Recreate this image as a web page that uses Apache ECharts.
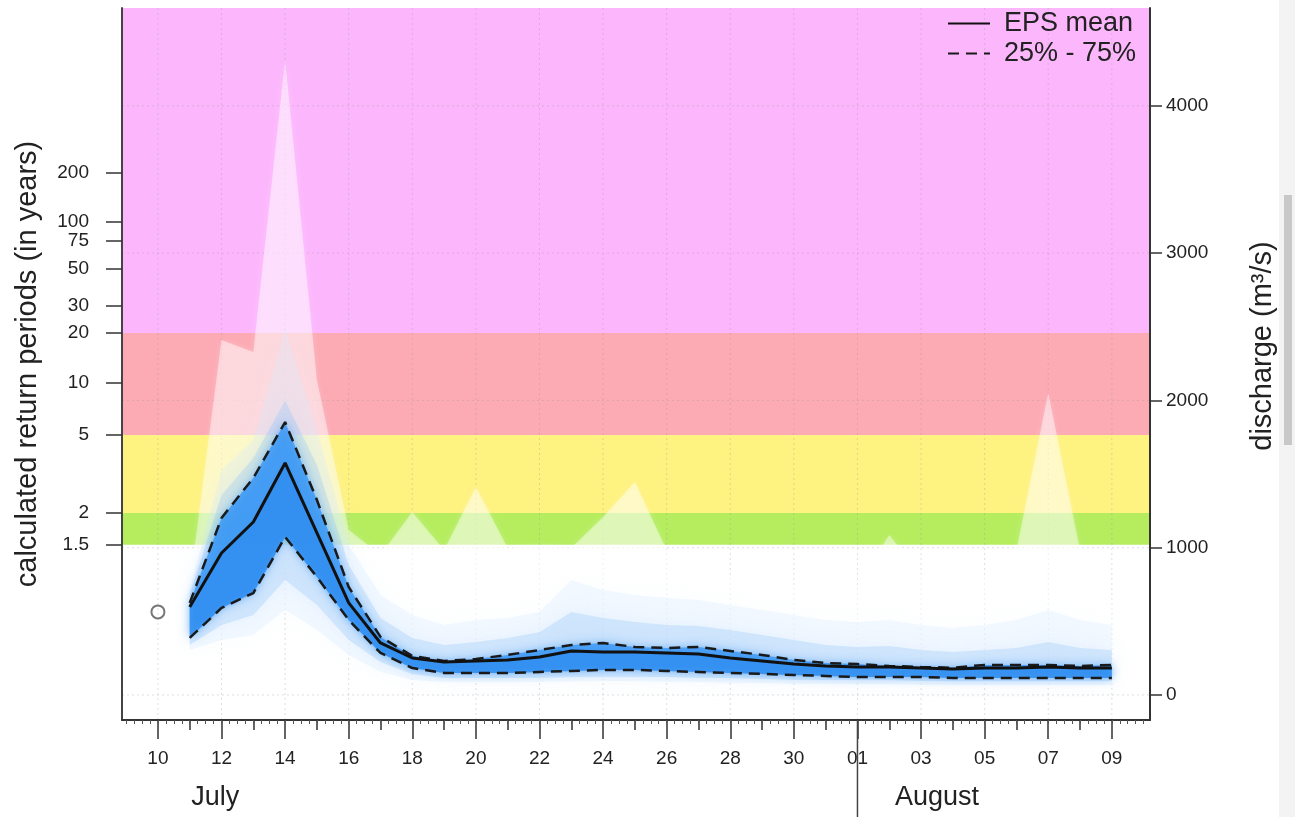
<!DOCTYPE html>
<html>
<head>
<meta charset="utf-8">
<script src="https://cdn.jsdelivr.net/npm/echarts@6/dist/echarts.min.js"></script>
<style>
html,body{margin:0;padding:0;background:#ffffff;}
#chart{width:1295px;height:817px;}
</style>
</head>
<body>
<div id="chart"></div>
<script>
// ---------- DATA ----------
// day index 0 = 10 July ... 30 = 9 August
const dayLabels = ['10','11','12','13','14','15','16','17','18','19','20','21','22','23','24','25','26','27','28','29','30','31','01','02','03','04','05','06','07','08','09'];
const labelDays = [0,2,4,6,8,10,12,14,16,18,20,22,24,26,28,30];
const allDays = [0,1,2,3,4,5,6,7,8,9,10,11,12,13,14,15,16,17,18,19,20,21,22,23,24,25,26,27,28,29,30];
const monthNames = ['July','August'];
const monthLabelPos = [1.8, 24.5];
const monthStartDay = 22; // 01 August

// forecast days (11 July .. 9 August)
const fcDays = [1,2,3,4,5,6,7,8,9,10,11,12,13,14,15,16,17,18,19,20,21,22,23,24,25,26,27,28,29,30];
// discharge, m3/s
const epsMean = [597,964,1174,1575,1100,625,353,251,224,231,238,258,299,292,292,285,278,251,231,210,197,190,190,183,177,183,183,190,183,183];
const q75 = [625,1202,1473,1853,1324,733,394,265,231,244,272,305,339,353,326,319,326,299,272,238,217,210,197,190,185,204,204,204,197,204];
const q25 = [387,591,692,1073,801,509,285,183,149,149,149,156,163,170,170,163,156,149,143,136,129,122,122,122,115,115,115,115,115,115];
const q90 = [679,1358,1609,2000,1561,883,523,387,339,360,387,428,563,523,496,475,468,441,407,373,339,326,333,305,292,305,319,360,319,305];
const q10 = [339,475,543,781,611,373,224,143,115,115,115,115,122,122,122,122,115,115,108,102,102,102,102,95,95,95,95,95,95,95];
const q95 = [713,1528,1731,2480,1799,1018,679,543,475,509,523,563,781,713,679,659,645,611,577,543,509,496,509,475,455,475,509,577,509,475];
const qMax = [747,2410,2329,4311,2139,1120,950,1242,984,1412,998,1018,998,1208,1446,984,849,815,781,747,713,747,1086,815,747,815,984,2050,984,645];
const qMin = [305,373,407,577,441,272,156,102,88,88,88,88,95,95,95,88,88,81,81,75,75,75,75,68,68,68,68,68,68,68];

const obsDays = [0];
const obsValues = [564];

// return-period thresholds (discharge) and colours
const thresholdLow  = [1020, 1236, 1765, 2458];
const thresholdHigh = [1236, 1765, 2458, 4664];
const thresholdColors = ['#B5ED5F', '#FEF280', '#FCAAB4', '#FCB7FC'];

// left axis: return periods (labels) at discharge positions
const rpLabels    = ['1.5','2','5','10','20','30','50','75','100','200'];
const rpDischarge = [1020, 1236, 1765, 2118, 2458, 2641, 2892, 3082, 3211, 3544];
// right axis ticks
const dischargeTicks = [0, 1000, 2000, 3000, 4000];

// ---------- CHART ----------
const FONT = "'Liberation Sans', Arial, sans-serif";
const X_MIN = -1.13, X_MAX = 31.2;
const Y_MIN = -170, Y_MAX = 4664;

const hatchTicks = [];
for (let t = -1; t <= 31.01; t += 0.25) hatchTicks.push(+t.toFixed(2));

const chart = echarts.init(document.getElementById('chart'), null, {renderer: 'canvas'});

function bandSeries(lo, hi, color, blur) {
  return {
    type: 'custom', xAxisIndex: 0, yAxisIndex: 1, z: 3, silent: true,
    data: fcDays.map((d, i) => [d, lo[i], hi[i]]),
    encode: {x: 0, y: [1, 2]},
    renderItem: function (params, api) {
      if (params.dataIndex !== 0) return null;
      const top = [], bot = [];
      for (let i = 0; i < fcDays.length; i++) {
        top.push(api.coord([fcDays[i], hi[i]]));
        bot.push(api.coord([fcDays[i], lo[i]]));
      }
      return {
        type: 'polygon',
        shape: {points: top.concat(bot.reverse())},
        style: {fill: color, shadowBlur: blur, shadowColor: color}
      };
    }
  };
}

const option = {
  animation: false,
  backgroundColor: '#ffffff',
  textStyle: {fontFamily: FONT},
  grid: {left: 122, right: 145, top: 8, bottom: 97, outerBoundsMode: 'none', containLabel: false},
  legend: {
    data: ['EPS mean', '25% - 75%'],
    orient: 'vertical', left: 942, top: 5, align: 'left',
    itemWidth: 42, itemHeight: 14, itemGap: 3,
    itemStyle: {color: 'rgba(0,0,0,0)', borderWidth: 0, opacity: 0},
    textStyle: {fontSize: 27, color: '#222', fontFamily: FONT, padding: [0, 0, 0, 9]},
    selectedMode: false
  },
  xAxis: [
    {
      type: 'value', position: 'bottom', min: X_MIN, max: X_MAX, z: 10,
      axisLine: {show: true, onZero: false, lineStyle: {color: '#333', width: 2}},
      axisTick: {show: true, customValues: labelDays, length: 19, lineStyle: {color: '#333', width: 1.5}},
      axisLabel: {customValues: labelDays, formatter: v => dayLabels[Math.round(v)], fontSize: 19, margin: 29, color: '#222', fontFamily: FONT},
      splitLine: {show: false}
    },
    {
      type: 'value', position: 'bottom', min: X_MIN, max: X_MAX, z: 10,
      axisLine: {show: false, onZero: false},
      axisTick: {show: true, customValues: allDays, length: 10, lineStyle: {color: '#333', width: 1.5}},
      axisLabel: {show: false}, splitLine: {show: false}
    },
    {
      type: 'value', position: 'bottom', min: X_MIN, max: X_MAX, z: 10,
      axisLine: {show: false, onZero: false},
      axisTick: {show: true, customValues: hatchTicks, length: 4, lineStyle: {color: '#555', width: 1}},
      axisLabel: {show: false}, splitLine: {show: false}
    },
    {
      type: 'value', position: 'bottom', min: X_MIN, max: X_MAX, z: 10,
      axisLine: {show: false, onZero: false}, axisTick: {show: false},
      axisLabel: {customValues: monthLabelPos, formatter: v => monthNames[monthLabelPos.indexOf(v)], fontSize: 27, margin: 64, color: '#222', fontFamily: FONT},
      splitLine: {show: false}
    }
  ],
  yAxis: [
    {
      type: 'value', position: 'left', min: Y_MIN, max: Y_MAX, z: 10,
      name: 'calculated return periods (in years)', nameLocation: 'middle', nameGap: 80, nameRotate: 90,
      nameTextStyle: {fontSize: 29, color: '#222', fontFamily: FONT},
      axisLine: {show: true, onZero: false, lineStyle: {color: '#444', width: 2}},
      axisTick: {show: true, customValues: rpDischarge, length: 16, lineStyle: {color: '#333', width: 1.5}},
      axisLabel: {customValues: rpDischarge, formatter: v => {
        const i = rpDischarge.findIndex(d => Math.abs(d - v) < 0.5); return i >= 0 ? rpLabels[i] : '';
      }, fontSize: 19, margin: 33, color: '#222', fontFamily: FONT},
      splitLine: {show: false}
    },
    {
      type: 'value', position: 'right', min: Y_MIN, max: Y_MAX, z: 10,
      name: 'discharge (m³/s)', nameLocation: 'middle', nameGap: 98, nameRotate: 90,
      nameTextStyle: {fontSize: 29, color: '#222', fontFamily: FONT, padding: [0, 0, 0, 36]},
      axisLine: {show: true, onZero: false, lineStyle: {color: '#333', width: 2}},
      axisTick: {show: true, customValues: dischargeTicks, length: 12, lineStyle: {color: '#333', width: 1.5}},
      axisLabel: {customValues: dischargeTicks, formatter: v => String(Math.round(v)), fontSize: 19, margin: 16, color: '#222', fontFamily: FONT},
      splitLine: {show: false}
    }
  ],
  series: [
    // background return-period bands
    {
      type: 'custom', xAxisIndex: 0, yAxisIndex: 1, z: 0, silent: true,
      data: thresholdLow.map((lo, i) => [0, lo, thresholdHigh[i]]),
      encode: {x: 0, y: [1, 2]},
      renderItem: function (params, api) {
        const cs = params.coordSys;
        const yTop = api.coord([0, api.value(2)])[1];
        const yBot = api.coord([0, api.value(1)])[1];
        return {type: 'rect', shape: {x: cs.x, y: yTop, width: cs.width, height: yBot - yTop},
                style: {fill: thresholdColors[params.dataIndex]}};
      }
    },
    // dotted grid lines
    {
      type: 'custom', xAxisIndex: 0, yAxisIndex: 1, z: 1, silent: true,
      data: [[0, 0]], encode: {x: 0, y: 1},
      renderItem: function (params, api) {
        const cs = params.coordSys;
        const children = [];
        labelDays.forEach(d => {
          const x = api.coord([d, 0])[0];
          children.push({type: 'line', shape: {x1: x, y1: cs.y, x2: x, y2: cs.y + cs.height},
            style: {stroke: 'rgba(150,150,150,0.3)', lineWidth: 1, lineDash: [2, 3]}});
        });
        dischargeTicks.forEach(v => {
          const y = api.coord([0, v])[1];
          children.push({type: 'line', shape: {x1: cs.x, y1: y, x2: cs.x + cs.width, y2: y},
            style: {stroke: 'rgba(150,150,150,0.3)', lineWidth: 1, lineDash: [2, 3]}});
        });
        return {type: 'group', children: children};
      }
    },
    // ensemble fan
    bandSeries(qMin, qMax, 'rgba(255,255,255,0.45)', 6),
    bandSeries(qMin, q95, 'rgba(215,235,255,0.3)', 26),
    bandSeries(q10, q90, 'rgba(150,200,250,0.32)', 18),
    bandSeries(q25, q75, 'rgba(55,150,245,0.78)', 10),
    bandSeries(q25, epsMean, 'rgba(25,125,235,0.3)', 4),
    // lines
    {
      name: '25% - 75%', type: 'line', xAxisIndex: 0, yAxisIndex: 1, z: 6, silent: true,
      data: fcDays.map((d, i) => [d, q75[i]]), symbol: 'none', showSymbol: false,
      lineStyle: {color: '#1a1a1a', width: 2.5, type: [11, 7]}, itemStyle: {color: '#1a1a1a'}
    },
    {
      name: '25% - 75%', type: 'line', xAxisIndex: 0, yAxisIndex: 1, z: 6, silent: true,
      data: fcDays.map((d, i) => [d, q25[i]]), symbol: 'none', showSymbol: false,
      lineStyle: {color: '#1a1a1a', width: 2.5, type: [11, 7]}, itemStyle: {color: '#1a1a1a'}
    },
    {
      name: 'EPS mean', type: 'line', xAxisIndex: 0, yAxisIndex: 1, z: 7, silent: true,
      data: fcDays.map((d, i) => [d, epsMean[i]]), symbol: 'none', showSymbol: false,
      lineStyle: {color: '#111', width: 3}, itemStyle: {color: '#111'}
    },
    {
      name: 'observed', type: 'scatter', xAxisIndex: 0, yAxisIndex: 1, z: 8, silent: true,
      data: obsDays.map((d, i) => [d, obsValues[i]]),
      symbol: 'circle', symbolSize: 13,
      itemStyle: {color: 'rgba(255,255,255,0)', borderColor: '#555', borderWidth: 2}
    }
  ]
};

chart.setOption(option);

// month separator & page scrollbar strip
const sepX = chart.convertToPixel({xAxisIndex: 0}, monthStartDay);
const axisY = chart.convertToPixel({yAxisIndex: 1}, Y_MIN);
chart.setOption({
  graphic: [
    {type: 'line', silent: true, z: 20, shape: {x1: sepX, y1: axisY, x2: sepX, y2: 817},
     style: {stroke: '#444', lineWidth: 1.5}},
    {type: 'rect', silent: true, z: 0, shape: {x: 1279, y: 0, width: 16, height: 817}, style: {fill: '#f3f3f3'}},
    {type: 'rect', silent: true, z: 1, shape: {x: 1284, y: 195, width: 8, height: 250}, style: {fill: '#c8c8c8'}}
  ]
});
</script>
</body>
</html>
